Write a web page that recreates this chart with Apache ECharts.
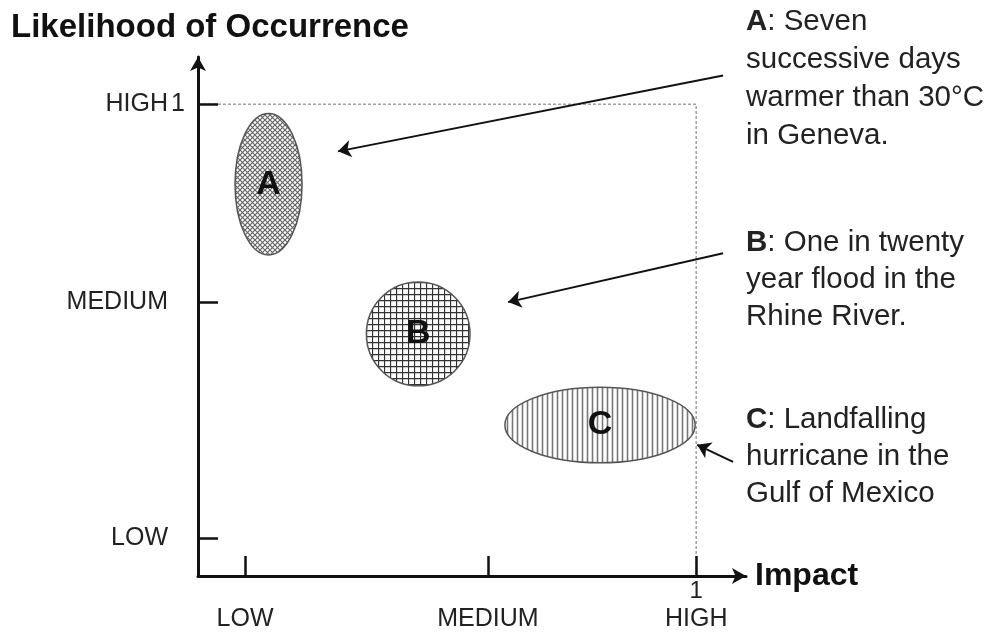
<!DOCTYPE html>
<html>
<head>
<meta charset="utf-8">
<script src="https://cdn.jsdelivr.net/npm/echarts@6/dist/echarts.min.js"></script>
<style>
html,body{margin:0;padding:0;background:#fff;}
#chart{width:992px;height:633px;}
</style>
</head>
<body>
<div id="chart"></div>
<script>
// ---- data ----
const regionNames = ['A', 'B', 'C'];
const regionImpact = [0.1416, 0.442, 0.807];      // x centre
const regionLikelihood = [0.8305, 0.513, 0.32];   // y centre
const regionSpreadX = [0.0673, 0.104, 0.191];     // x radius
const regionSpreadY = [0.150, 0.110, 0.080];      // y radius

const xTickValues = [0.0944, 0.582, 1];
const xTickLabels = ['LOW', 'MEDIUM', 'HIGH'];
const yTickValues = [0.0805, 0.5805, 1];
const yTickLabels = ['LOW', 'MEDIUM', 'HIGH'];

const frameLine = [[0, 1], [1, 1], [1, 0]];

const arrowFrom = [[1.054, 1.061], [1.054, 0.684], [1.074, 0.242]];
const arrowTo = [[0.281, 0.900], [0.6225, 0.5805], [1.002, 0.278]];

const noteA = '{b|A}: Seven\nsuccessive days\nwarmer than 30°C\nin Geneva.';
const noteB = '{b|B}: One in twenty\nyear flood in the\nRhine River.';
const noteC = '{b|C}: Landfalling\nhurricane in the\nGulf of Mexico';

// ---- styling helpers ----
const FONT = '"Liberation Sans", Arial, sans-serif';

function makePattern(kind) {
  const c = document.createElement('canvas');
  const s = kind === 'grid' ? 6 : 5;
  c.width = s; c.height = s;
  const g = c.getContext('2d');
  g.fillStyle = '#fff';
  g.fillRect(0, 0, s, s);
  if (kind === 'cross') {
    g.strokeStyle = '#666';
    g.lineWidth = 1.2;
    g.beginPath();
    g.moveTo(-1, -1); g.lineTo(s + 1, s + 1);
    g.moveTo(s + 1, -1); g.lineTo(-1, s + 1);
    g.stroke();
  } else if (kind === 'grid') {
    g.strokeStyle = '#333';
    g.lineWidth = 1.3;
    g.beginPath();
    g.moveTo(0.5, 0); g.lineTo(0.5, s);
    g.moveTo(0, 0.5); g.lineTo(s, 0.5);
    g.stroke();
  } else {
    g.strokeStyle = '#777';
    g.lineWidth = 1.6;
    g.beginPath();
    g.moveTo(2.5, 0); g.lineTo(2.5, s);
    g.stroke();
  }
  return { image: c, repeat: 'repeat' };
}
const patterns = [makePattern('cross'), makePattern('grid'), makePattern('stripe')];

function idxOf(arr, v) {
  for (let i = 0; i < arr.length; i++) if (Math.abs(arr[i] - v) < 1e-6) return i;
  return -1;
}

function noteStyle(text, lh) {
  return {
    text: text, fontSize: 29.5, fontFamily: FONT, fill: '#222', lineHeight: lh,
    rich: { b: { fontWeight: 'bold', fontSize: 29.5, fontFamily: FONT, lineHeight: lh, color: '#222' } }
  };
}

const chart = echarts.init(document.getElementById('chart'), null, { renderer: 'canvas' });

const option = {
  animation: false,
  backgroundColor: '#fff',
  grid: { left: 198, right: 246, top: 57, bottom: 57 },
  xAxis: {
    type: 'value', min: 0, max: 1.1, z: 10,
    name: 'Impact', nameLocation: 'end', nameGap: 9,
    nameTextStyle: { fontSize: 32, fontWeight: 'bold', color: '#111', fontFamily: FONT, verticalAlign: 'middle' },
    axisLine: { show: true, symbol: ['none', 'arrow'], symbolSize: [12, 14], lineStyle: { color: '#111', width: 3 } },
    axisTick: { show: true, inside: true, length: 20, customValues: xTickValues, lineStyle: { color: '#111', width: 2.5 } },
    axisLabel: {
      show: true, customValues: xTickValues, margin: 5,
      formatter: function (v) {
        const i = idxOf(xTickValues, v);
        const one = Math.abs(v - 1) < 1e-6 ? '1' : ' ';
        return '{one|' + one + '}\n{t|' + (i >= 0 ? xTickLabels[i] : '') + '}';
      },
      rich: {
        one: { fontSize: 24, lineHeight: 20, color: '#222', fontFamily: FONT },
        t: { fontSize: 25, lineHeight: 36, color: '#222', fontFamily: FONT }
      }
    },
    splitLine: { show: false }
  },
  yAxis: {
    type: 'value', min: 0, max: 1.1, z: 10,
    name: 'Likelihood of Occurrence', nameLocation: 'end', nameGap: 13,
    nameTextStyle: { fontSize: 33, fontWeight: 'bold', color: '#111', fontFamily: FONT, align: 'center', padding: [0, 0, 0, 24] },
    axisLine: { show: true, symbol: ['none', 'arrow'], symbolSize: [12, 14], lineStyle: { color: '#111', width: 3 } },
    axisTick: { show: true, inside: true, length: 20, customValues: yTickValues, lineStyle: { color: '#111', width: 2.5 } },
    axisLabel: {
      show: true, customValues: yTickValues, margin: 13,
      formatter: function (v) {
        const i = idxOf(yTickValues, v);
        const one = Math.abs(v - 1) < 1e-6 ? '1' : '';
        return '{t|' + (i >= 0 ? yTickLabels[i] : '') + '}{o|' + one + '}';
      },
      rich: {
        t: { fontSize: 25, color: '#222', fontFamily: FONT },
        o: { fontSize: 25, color: '#222', fontFamily: FONT, width: 17, align: 'right' }
      }
    },
    splitLine: { show: false }
  },
  graphic: [
    { type: 'text', x: 746, y: 3, silent: true, style: noteStyle(noteA, 38) },
    { type: 'text', x: 746, y: 224, silent: true, style: noteStyle(noteB, 37) },
    { type: 'text', x: 746, y: 401, silent: true, style: noteStyle(noteC, 37) }
  ],
  series: [
    {
      type: 'line', data: frameLine, showSymbol: false, silent: true, z: 1,
      lineStyle: { color: '#a0a0a0', width: 1.5, type: [3, 2] }
    },
    {
      type: 'custom', clip: false, silent: true, z: 2,
      data: regionNames.map((n, i) => [regionImpact[i], regionLikelihood[i], regionSpreadX[i], regionSpreadY[i], i]),
      renderItem: function (params, api) {
        const i = api.value(4);
        const c = api.coord([api.value(0), api.value(1)]);
        const s = api.size([api.value(2), api.value(3)]);
        return {
          type: 'group',
          children: [
            { type: 'ellipse', shape: { cx: c[0], cy: c[1], rx: s[0], ry: s[1] },
              style: { fill: patterns[i], stroke: '#555', lineWidth: 1.5 } },
            { type: 'text', x: c[0], y: c[1],
              style: { text: regionNames[i], align: 'center', verticalAlign: 'middle',
                       fontSize: 34, fontWeight: 'bold', fontFamily: FONT, fill: '#111' } }
          ]
        };
      }
    },
    {
      type: 'lines', coordinateSystem: 'cartesian2d', silent: true, z: 3,
      symbol: ['none', 'arrow'], symbolSize: 13,
      lineStyle: { color: '#111', width: 2, opacity: 1 },
      data: arrowFrom.map((p, i) => ({ coords: [p, arrowTo[i]] }))
    }
  ]
};
chart.setOption(option);
</script>
</body>
</html>
